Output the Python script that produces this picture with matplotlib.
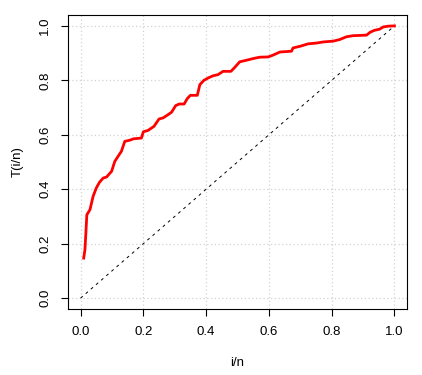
import numpy as np
import matplotlib.pyplot as plt

plt.rcParams['font.family'] = ['Liberation Sans', 'DejaVu Sans']

x = [0.01, 0.014, 0.017, 0.02, 0.03, 0.04, 0.05, 0.06, 0.072, 0.083, 0.099,
     0.109, 0.123, 0.13, 0.141, 0.157, 0.168, 0.194, 0.2, 0.215, 0.234, 0.25,
     0.263, 0.279, 0.29, 0.303, 0.314, 0.33, 0.34, 0.35, 0.372, 0.38, 0.393,
     0.407, 0.423, 0.438, 0.454, 0.479, 0.49, 0.507, 0.529, 0.55, 0.571,
     0.598, 0.614, 0.635, 0.672, 0.677, 0.699, 0.725, 0.752, 0.773, 0.805,
     0.826, 0.847, 0.868, 0.911, 0.923, 0.937, 0.953, 0.964, 0.98, 1.0]
y = [0.147, 0.178, 0.24, 0.306, 0.325, 0.374, 0.404, 0.425, 0.441, 0.445,
     0.466, 0.502, 0.527, 0.539, 0.576, 0.58, 0.585, 0.588, 0.611, 0.616,
     0.631, 0.658, 0.662, 0.674, 0.683, 0.707, 0.713, 0.713, 0.733, 0.745,
     0.745, 0.784, 0.80, 0.809, 0.817, 0.821, 0.833, 0.833, 0.846, 0.868,
     0.874, 0.88, 0.885, 0.886, 0.893, 0.904, 0.907, 0.919, 0.925, 0.934,
     0.937, 0.941, 0.944, 0.95, 0.96, 0.964, 0.966, 0.977, 0.984, 0.988,
     0.996, 0.999, 1.0]
ticks = [0.0, 0.2, 0.4, 0.6, 0.8, 1.0]
tick_labels = ["0.0", "0.2", "0.4", "0.6", "0.8", "1.0"]

fig = plt.figure(figsize=(4.22, 3.75), dpi=100)
ax = fig.add_axes([68 / 422, 66 / 375, 339 / 422, 294 / 375])

# grid at the ticks, light gray dotted
for t in ticks:
    ax.axvline(t, color="#d3d3d3", lw=0.9, ls=(0, (1, 2)), zorder=0)
    ax.axhline(t, color="#d3d3d3", lw=0.9, ls=(0, (1, 2)), zorder=0)

ax.plot([0, 1], [0, 1], color="black", lw=0.7, ls=(0, (3, 4)))
ax.plot(x, y, color="red", lw=2)

ax.set_xlim(-0.04, 1.04)
ax.set_ylim(-0.04, 1.04)
ax.set_xticks(ticks)
ax.set_xticklabels(tick_labels)
ax.set_yticks(ticks)
ax.set_yticklabels(tick_labels, rotation=90, va="center")
ax.tick_params(direction="out", length=5, width=0.8, labelsize=9.5, pad=7)
for s in ax.spines.values():
    s.set_linewidth(0.8)

ax.set_xlabel("i/n", fontsize=9.5, labelpad=14)
ax.set_ylabel("T(i/n)", fontsize=9.5, labelpad=11)

plt.savefig("out.png", dpi=100)
